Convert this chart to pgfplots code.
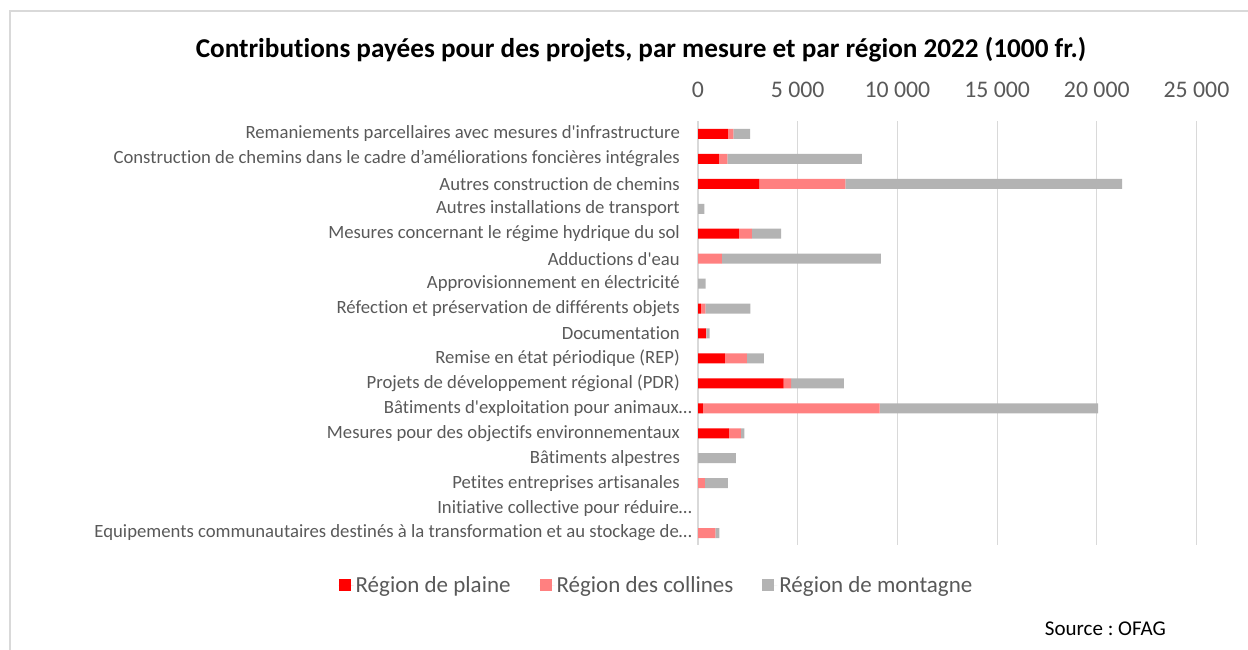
\documentclass[border=0pt]{standalone}
\usepackage{fontspec}
\setmainfont{Carlito}[Ligatures={TeXOff,NoCommon}]
\usepackage{pgfplots}
\pgfplotsset{compat=1.18}
\definecolor{cPlaine}{HTML}{FF0000}
\definecolor{cCollines}{HTML}{FF8080}
\definecolor{cMontagne}{HTML}{B3B3B3}
\definecolor{txtgray}{HTML}{595959}
\definecolor{gridgray}{HTML}{D9D9D9}
\begin{document}
\frenchspacing
\begin{tikzpicture}[x=1bp,y=1bp]
\useasboundingbox (0,0) rectangle (1248,650);
\draw[color=gridgray, line width=2bp] (10,0) -- (10,639) -- (1248,639);
\node[font=\fontsize{27.2bp}{31bp}\selectfont\bfseries, text=black] at (641,600) {Contributions payées pour des projets, par mesure et par région 2022 (1000 fr.)};
\node[font=\fontsize{21bp}{25bp}\selectfont, text=black, anchor=base east, inner sep=0pt] at (1166,14) {Source : OFAG};
\begin{axis}[
  at={(698bp,104.5bp)}, anchor=south west,
  scale only axis, width=498.5bp, height=424bp,
  xbar stacked, bar width=10bp,
  xmin=0, xmax=25000, ymin=-0.5, ymax=16.5,
  y dir=reverse,
  axis line style={draw=none},
  major tick length=0pt,
  scaled x ticks=false,
  xticklabel pos=upper,
  xtick={0,5000,10000,15000,20000,25000},
  xticklabels={0,5 000,10 000,15 000,20 000,25 000},
  xticklabel style={font=\fontsize{23.8bp}{27bp}\selectfont, text=txtgray, anchor=base, inner sep=0pt, yshift=23.5bp},
  xmajorgrids, grid style={color=gridgray, line width=1.2bp},
  ytick={0,...,16},
  yticklabels={
    Remaniements parcellaires avec mesures d'infrastructure,
    Construction de chemins dans le cadre d’améliorations foncières intégrales,
    Autres construction de chemins,
    Autres installations de transport,
    Mesures concernant le régime hydrique du sol,
    Adductions d'eau,
    Approvisionnement en électricité,
    Réfection et préservation de différents objets,
    Documentation,
    Remise en état périodique (REP),
    Projets de développement régional (PDR),
    Bâtiments d'exploitation pour animaux…\kern-12bp,
    Mesures pour des objectifs environnementaux,
    Bâtiments alpestres,
    Petites entreprises artisanales,
    Initiative collective pour réduire…\kern-12bp,
    Equipements communautaires destinés à la transformation et au stockage de…\kern-12bp},
  yticklabel style={font=\fontsize{18.7bp}{22bp}\selectfont, text=txtgray, anchor=east, inner sep=0pt, xshift=-18bp},
  legend columns=3,
  legend style={draw=none, fill=none, at={(-0.0833,-0.0932)}, anchor=center,
    font=\fontsize{23bp}{27bp}\selectfont, text=txtgray,
    /tikz/every even column/.append style={column sep=27bp}},
  legend cell align=left,
  legend image code/.code={\fill[#1] (0bp,-6bp) rectangle (12bp,6bp); \path (0bp,0bp) -- (15bp,0bp);},
]
\addplot[fill=cPlaine, draw=none] coordinates {
 (1500,0) (1050,1) (3075,2) (0,3) (2050,4) (0,5) (0,6) (150,7) (400,8)
 (1350,9) (4300,10) (250,11) (1550,12) (0,13) (0,14) (0,15) (0,16)};
\addlegendentry{Région de plaine}
\addplot[fill=cCollines, draw=none] coordinates {
 (270,0) (420,1) (4310,2) (0,3) (650,4) (1200,5) (0,6) (220,7) (20,8)
 (1100,9) (370,10) (8860,11) (600,12) (0,13) (350,14) (0,15) (870,16)};
\addlegendentry{Région des collines}
\addplot[fill=cMontagne, draw=none] coordinates {
 (840,0) (6750,1) (13890,2) (320,3) (1470,4) (7970,5) (380,6) (2250,7) (160,8)
 (850,9) (2640,10) (10960,11) (170,12) (1900,13) (1150,14) (0,15) (200,16)};
\addlegendentry{Région de montagne}
\end{axis}
\end{tikzpicture}
\end{document}
